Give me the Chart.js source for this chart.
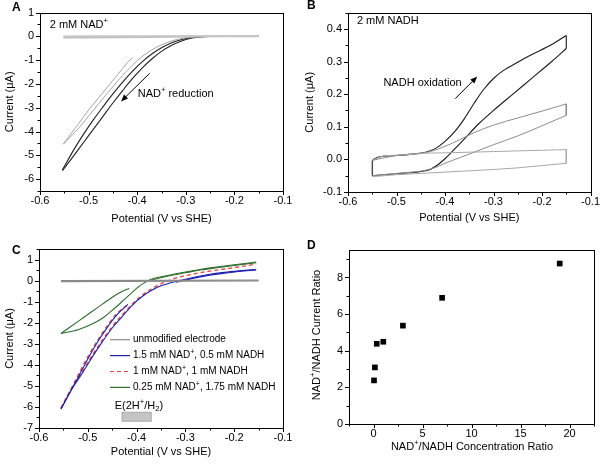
<!DOCTYPE html>
<html>
<head>
<meta charset="utf-8">
<script src="https://cdn.jsdelivr.net/npm/chart.js@4.4.1/dist/chart.umd.min.js"></script>
<style>
  body { margin: 0; background: #fff; }
  .panel { position: absolute; }
  canvas { display: block; }
</style>
</head>
<body>
<div class="panel" style="left:0;top:0"><canvas id="chartA" width="300" height="232"></canvas></div>
<div class="panel" style="left:300px;top:0"><canvas id="chartB" width="303" height="232"></canvas></div>
<div class="panel" style="left:0;top:232px"><canvas id="chartC" width="300" height="232"></canvas></div>
<div class="panel" style="left:300px;top:232px"><canvas id="chartD" width="303" height="232"></canvas></div>
<script>
var FONT = '"Liberation Sans", Arial, Helvetica, sans-serif';

// tick values
var xTicksCV = [-0.6, -0.5, -0.4, -0.3, -0.2, -0.1];
var yTicksA = [-6, -5, -4, -3, -2, -1, 0, 1];
var yTicksB = [-0.1, 0, 0.1, 0.2, 0.3, 0.4];
var yTicksC = [-7, -6, -5, -4, -3, -2, -1, 0, 1];
var xTicksD = [0, 5, 10, 15, 20];
var yTicksD = [0, 2, 4, 6, 8];

// A: 2 mM NAD+  [potential V, current uA]
var aBaseUp = [[-0.552, 0.0], [-0.4, 0.01], [-0.15, 0.02]];
var aBaseLow = [[-0.552, -0.06], [-0.45, -0.05], [-0.3, -0.02], [-0.15, 0.0]];
var aGray1 = [[-0.552, -4.53], [-0.52, -3.65], [-0.50, -3.1], [-0.48, -2.6], [-0.46, -2.1], [-0.44, -1.6], [-0.42, -1.1], [-0.41, -0.9]];
var aGray2 = [[-0.552, -4.53], [-0.52, -3.85], [-0.50, -3.35], [-0.48, -2.85], [-0.46, -2.35], [-0.44, -1.87], [-0.42, -1.42], [-0.40, -1.02],
  [-0.38, -0.7], [-0.36, -0.45], [-0.34, -0.27], [-0.32, -0.14], [-0.30, -0.06], [-0.28, -0.02], [-0.25, 0.0], [-0.20, 0.01], [-0.15, 0.02]];
var aBlack1 = [[-0.554, -5.62], [-0.53, -4.75], [-0.51, -4.1], [-0.49, -3.5], [-0.47, -2.95], [-0.45, -2.42], [-0.43, -1.92], [-0.41, -1.47],
  [-0.39, -1.07], [-0.37, -0.74], [-0.35, -0.48], [-0.33, -0.28], [-0.31, -0.14], [-0.29, -0.05], [-0.27, -0.01], [-0.22, 0.01], [-0.15, 0.02]];
var aBlack2 = [[-0.554, -5.65], [-0.53, -5.0], [-0.51, -4.45], [-0.49, -3.9], [-0.47, -3.35], [-0.45, -2.8], [-0.43, -2.28], [-0.41, -1.78],
  [-0.39, -1.33], [-0.37, -0.95], [-0.35, -0.63], [-0.33, -0.38], [-0.31, -0.2], [-0.29, -0.08], [-0.27, -0.02], [-0.22, 0.01], [-0.15, 0.02]];

// B: 2 mM NADH
var bBlackUp = [[-0.55, -0.003], [-0.54, 0.006], [-0.50, 0.012], [-0.46, 0.017], [-0.44, 0.022], [-0.42, 0.033], [-0.40, 0.055], [-0.38, 0.085],
  [-0.36, 0.125], [-0.34, 0.172], [-0.32, 0.215], [-0.30, 0.248], [-0.28, 0.272], [-0.25, 0.298], [-0.22, 0.322], [-0.18, 0.352], [-0.15, 0.38]];
var bBlackLow = [[-0.55, -0.05], [-0.50, -0.044], [-0.46, -0.039], [-0.44, -0.035], [-0.43, -0.03], [-0.42, -0.022], [-0.40, 0.002], [-0.38, 0.032],
  [-0.36, 0.063], [-0.33, 0.11], [-0.30, 0.15], [-0.26, 0.2], [-0.22, 0.25], [-0.18, 0.3], [-0.15, 0.34]];
var bGrayUp = [[-0.55, -0.003], [-0.50, 0.012], [-0.46, 0.018], [-0.43, 0.024], [-0.40, 0.04], [-0.37, 0.06], [-0.34, 0.082], [-0.30, 0.105],
  [-0.25, 0.127], [-0.20, 0.148], [-0.15, 0.17]];
var bGrayLow = [[-0.55, -0.05], [-0.50, -0.043], [-0.45, -0.036], [-0.42, -0.025], [-0.40, -0.012], [-0.37, 0.005], [-0.34, 0.022], [-0.30, 0.045],
  [-0.25, 0.072], [-0.20, 0.103], [-0.15, 0.135]];
var bBareUp = [[-0.55, -0.003], [-0.53, 0.009], [-0.50, 0.013], [-0.47, 0.015], [-0.44, 0.019], [-0.40, 0.02], [-0.35, 0.022], [-0.30, 0.024],
  [-0.25, 0.026], [-0.20, 0.028], [-0.15, 0.03]];
var bBareLow = [[-0.55, -0.053], [-0.50, -0.047], [-0.45, -0.043], [-0.40, -0.039], [-0.35, -0.035], [-0.30, -0.031], [-0.25, -0.026],
  [-0.20, -0.019], [-0.15, -0.012]];

// C: mixtures
var cGrayUp = [[-0.555, 0.0], [-0.15, 0.02]];
var cGrayLow = [[-0.555, -0.05], [-0.15, -0.01]];
var cBlueLeft = [[-0.555, -6.1], [-0.54, -5.45], [-0.52, -4.6], [-0.50, -3.72], [-0.48, -2.92], [-0.46, -2.22], [-0.44, -1.62], [-0.418, -1.13]];
var cBlueRight = [[-0.555, -6.1], [-0.53, -5.05], [-0.51, -4.35], [-0.49, -3.6], [-0.47, -2.9], [-0.45, -2.25], [-0.43, -1.72], [-0.41, -1.2],
  [-0.39, -0.78], [-0.37, -0.47], [-0.35, -0.25], [-0.33, -0.1], [-0.31, 0.01], [-0.28, 0.17], [-0.25, 0.3], [-0.22, 0.39], [-0.19, 0.46], [-0.155, 0.53]];
var cBlueRet = [[-0.32, -0.08], [-0.28, 0.13], [-0.25, 0.26], [-0.22, 0.35], [-0.19, 0.43], [-0.155, 0.5]];
var cRedLeft = [[-0.555, -6.05], [-0.54, -5.4], [-0.52, -4.5], [-0.50, -3.62], [-0.48, -2.84], [-0.46, -2.14], [-0.44, -1.56], [-0.415, -1.08]];
var cRedRight = [[-0.555, -6.05], [-0.53, -4.98], [-0.51, -4.28], [-0.49, -3.52], [-0.47, -2.82], [-0.45, -2.18], [-0.43, -1.64], [-0.41, -1.14],
  [-0.39, -0.72], [-0.37, -0.4], [-0.35, -0.15], [-0.33, 0.04], [-0.31, 0.18], [-0.28, 0.33], [-0.25, 0.45], [-0.22, 0.55], [-0.19, 0.65], [-0.155, 0.78]];
var cGreenLeft = [[-0.555, -2.51], [-0.534, -2.17], [-0.517, -1.89], [-0.5, -1.61], [-0.483, -1.33], [-0.466, -1.05], [-0.449, -0.78], [-0.432, -0.54], [-0.415, -0.37]];
var cGreenRight = [[-0.555, -2.51], [-0.52, -2.33], [-0.486, -2.0], [-0.468, -1.75], [-0.452, -1.45], [-0.438, -1.17], [-0.425, -0.89], [-0.41, -0.58],
  [-0.398, -0.33], [-0.385, -0.12], [-0.37, 0.06], [-0.35, 0.18], [-0.325, 0.3], [-0.30, 0.41], [-0.27, 0.53], [-0.236, 0.64], [-0.2, 0.75], [-0.155, 0.88]];
var cGreenRet = [[-0.37, 0.02], [-0.33, 0.24], [-0.30, 0.37], [-0.27, 0.5], [-0.236, 0.61], [-0.2, 0.72], [-0.155, 0.85]];
var cLegend = ['unmodified electrode', '1.5 mM NAD^{+}, 0.5 mM NADH', '1 mM NAD^{+}, 1 mM NADH', '0.25 mM NAD^{+}, 1.75 mM NADH'];

// D: ratio plot
var dConcRatio = [0.053, 0.143, 0.333, 1, 3, 7, 19];
var dCurrentRatio = [2.38, 3.09, 4.38, 4.49, 5.37, 6.89, 8.76];

var colGray = '#8a8a8a', colBlue = '#1f1fb0', colRed = '#e8413c', colGreen = '#2f6d2f';

function pts(arr) {
  return arr.map(function (p) { return { x: p[0], y: p[1] }; });
}

function curve(arr, color, width, dash) {
  return {
    data: pts(arr), showLine: true, borderColor: color, borderWidth: width || 1,
    borderDash: dash || [], pointRadius: 0, cubicInterpolationMode: 'monotone', fill: false
  };
}

// short straight piece joining two branch ends
function cap(a, b, color, width) {
  return { data: pts([a, b]), showLine: true, borderColor: color, borderWidth: width || 1, pointRadius: 0, tension: 0 };
}

function last(arr) { return arr[arr.length - 1]; }

function rich(ctx, str, x, y, size, align) {
  var parts = [];
  str.replace(/\^\{([^}]*)\}|_\{([^}]*)\}|([^\^_]+)/g, function (m, sup, sub, txt) {
    if (sup !== undefined) parts.push({ t: sup, s: size * 0.7, dy: -size * 0.38 });
    else if (sub !== undefined) parts.push({ t: sub, s: size * 0.7, dy: size * 0.3 });
    else parts.push({ t: txt, s: size, dy: 0 });
    return m;
  });
  var w = 0;
  parts.forEach(function (p) { ctx.font = p.s + 'px ' + FONT; p.w = ctx.measureText(p.t).width; w += p.w; });
  var cx = align === 'center' ? x - w / 2 : x;
  ctx.textBaseline = 'middle';
  ctx.textAlign = 'left';
  ctx.fillStyle = '#000';
  parts.forEach(function (p) {
    ctx.font = p.s + 'px ' + FONT;
    ctx.fillText(p.t, cx, y + p.dy);
    cx += p.w;
  });
}

function letter(ctx, t, x, y) {
  ctx.font = 'bold 12px ' + FONT;
  ctx.fillStyle = '#000';
  ctx.textAlign = 'left';
  ctx.textBaseline = 'middle';
  ctx.fillText(t, x, y);
}

function arrow(ctx, x1, y1, x2, y2) {
  var ang = Math.atan2(y2 - y1, x2 - x1);
  ctx.strokeStyle = '#000';
  ctx.fillStyle = '#000';
  ctx.lineWidth = 1;
  ctx.beginPath();
  ctx.moveTo(x1, y1);
  ctx.lineTo(x2 - 4 * Math.cos(ang), y2 - 4 * Math.sin(ang));
  ctx.stroke();
  ctx.beginPath();
  ctx.moveTo(x2, y2);
  ctx.lineTo(x2 - 7 * Math.cos(ang) + 2.8 * Math.sin(ang), y2 - 7 * Math.sin(ang) - 2.8 * Math.cos(ang));
  ctx.lineTo(x2 - 7 * Math.cos(ang) - 2.8 * Math.sin(ang), y2 - 7 * Math.sin(ang) + 2.8 * Math.cos(ang));
  ctx.closePath();
  ctx.fill();
}

// box around plot + outward major/minor ticks on left and bottom
var frame = {
  id: 'frame',
  afterDraw: function (chart) {
    var ctx = chart.ctx, a = chart.chartArea;
    ctx.save();
    ctx.strokeStyle = '#000';
    ctx.lineWidth = 1;
    ctx.strokeRect(Math.round(a.left) + 0.5, Math.round(a.top) + 0.5, Math.round(a.right - a.left), Math.round(a.bottom - a.top));
    ['x', 'y'].forEach(function (k) {
      var s = chart.scales[k];
      var vals = s.ticks.map(function (t) { return t.value; });
      var step = vals[1] - vals[0];
      var draw = function (v, len) {
        var p = Math.round(s.getPixelForValue(v)) + 0.5;
        ctx.beginPath();
        if (k === 'x') { ctx.moveTo(p, a.bottom); ctx.lineTo(p, a.bottom + len); }
        else { ctx.moveTo(a.left, p); ctx.lineTo(a.left - len, p); }
        ctx.stroke();
      };
      vals.forEach(function (v) { draw(v, 4); });
      for (var v = vals[0] - step / 2; v <= s.max + 1e-9; v += step) {
        if (v >= s.min - 1e-9) draw(v, 2.5);
      }
    });
    ctx.restore();
  }
};

function axis(o, dir) {
  return {
    type: 'linear', min: o.min, max: o.max,
    afterBuildTicks: function (s) { s.ticks = o.ticks.map(function (v) { return { value: v }; }); },
    afterFit: function (s) { if (dir === 'x') s.height = o.size; else s.width = o.size; },
    grid: { display: false, drawTicks: false },
    border: { display: false },
    ticks: { color: '#000', font: { family: FONT, size: 11 }, padding: dir === 'x' ? 3 : 6, maxRotation: 0, autoSkip: false, callback: o.fmt },
    title: o.title ? { display: true, text: o.title, color: '#000', font: { family: FONT, size: 11 }, padding: o.tpad } : { display: false }
  };
}

function makeChart(id, cfg) {
  return new Chart(document.getElementById(id), {
    type: 'scatter',
    data: { datasets: cfg.datasets },
    options: {
      responsive: false,
      animation: false,
      layout: { padding: cfg.pad },
      plugins: { legend: { display: false }, tooltip: { enabled: false } },
      scales: { x: axis(cfg.x, 'x'), y: axis(cfg.y, 'y') }
    },
    plugins: [frame, { id: 'notes', afterDraw: cfg.notes }]
  });
}

var fmt1 = function (v) { return v.toFixed(1); };
var fmt0 = function (v) { return String(v); };

// ---- A ----
makeChart('chartA', {
  pad: { left: 0, top: 11, right: 17, bottom: 0 },
  x: { min: -0.6, max: -0.1, ticks: xTicksCV, size: 41, fmt: fmt1, title: 'Potential (V vs SHE)', tpad: { top: 0, bottom: 6.4 } },
  y: { min: -6.5, max: 1, ticks: yTicksA, size: 40, fmt: fmt0, title: 'Current (\u03bcA)', tpad: { top: 3.4, bottom: 0 } },
  datasets: [
    curve(aBaseUp, '#c6c6c6', 2), curve(aBaseLow, '#bdbdbd', 1.5),
    curve(aGray1, '#a4a4a4', 1), curve(aGray2, '#a4a4a4', 1),
    curve(aBlack1, '#222', 1.1), curve(aBlack2, '#222', 1.1)
  ],
  notes: function (chart) {
    var ctx = chart.ctx, x = chart.scales.x, y = chart.scales.y;
    letter(ctx, 'A', 12, 8);
    rich(ctx, '2 mM NAD^{+}', x.getPixelForValue(-0.58), y.getPixelForValue(0.48), 11);
    rich(ctx, 'NAD^{+} reduction', x.getPixelForValue(-0.399), y.getPixelForValue(-2.44), 11);
    arrow(ctx, x.getPixelForValue(-0.3745), y.getPixelForValue(-1.556), x.getPixelForValue(-0.4333), y.getPixelForValue(-2.733));
  }
});

// ---- B ----
makeChart('chartB', {
  pad: { left: 0, top: 10, right: 10, bottom: 0 },
  x: { min: -0.6, max: -0.1, ticks: xTicksCV, size: 40, fmt: fmt1, title: 'Potential (V vs SHE)', tpad: { top: 0, bottom: 7.1 } },
  y: { min: -0.1, max: 0.45, ticks: yTicksB, size: 48, fmt: fmt1, title: 'Current (\u03bcA)', tpad: { top: 3.4, bottom: 0 } },
  datasets: [
    curve(bBareUp, '#a8a8a8', 1), curve(bBareLow, '#a8a8a8', 1), cap(last(bBareUp), last(bBareLow), '#a8a8a8', 1),
    curve(bGrayUp, '#8c8c8c', 1), curve(bGrayLow, '#8c8c8c', 1), cap(last(bGrayUp), last(bGrayLow), '#8c8c8c', 1),
    curve(bBlackUp, '#1a1a1a', 1.1), curve(bBlackLow, '#1a1a1a', 1.1),
    cap(last(bBlackUp), last(bBlackLow), '#1a1a1a', 1.1), cap(bBlackUp[0], bBlackLow[0], '#1a1a1a', 1.1)
  ],
  notes: function (chart) {
    var ctx = chart.ctx, x = chart.scales.x, y = chart.scales.y;
    letter(ctx, 'B', 7, 6);
    rich(ctx, '2 mM NADH', x.getPixelForValue(-0.5816), y.getPixelForValue(0.424), 11);
    rich(ctx, 'NADH oxidation', x.getPixelForValue(-0.527), y.getPixelForValue(0.233), 11);
    arrow(ctx, x.getPixelForValue(-0.379), y.getPixelForValue(0.186), x.getPixelForValue(-0.3335), y.getPixelForValue(0.254));
  }
});

// ---- C ----
var cStyles = [
  { color: colGray, dash: [] }, { color: colBlue, dash: [] }, { color: colRed, dash: [4, 3] }, { color: colGreen, dash: [] }
];
makeChart('chartC', {
  pad: { left: 0, top: 17, right: 17, bottom: 0 },
  x: { min: -0.6, max: -0.1, ticks: xTicksCV, size: 36, fmt: fmt1, title: 'Potential (V vs SHE)', tpad: { top: 0, bottom: 5.4 } },
  y: { min: -7, max: 1.5, ticks: yTicksC, size: 39, fmt: fmt0, title: 'Current (\u03bcA)', tpad: { top: 3.4, bottom: 0 } },
  datasets: [
    curve(cGrayUp, colGray, 1.2), curve(cGrayLow, colGray, 1.2),
    curve(cGreenLeft, colGreen, 1.1), curve(cGreenRight, colGreen, 1.1), curve(cGreenRet, colGreen, 1.1),
    curve(cBlueLeft, colBlue, 1.1), curve(cBlueRight, colBlue, 1.1), curve(cBlueRet, colBlue, 1.1),
    curve(cRedLeft, colRed, 1.3, [4, 3]), curve(cRedRight, colRed, 1.3, [4, 3])
  ],
  notes: function (chart) {
    var ctx = chart.ctx, x = chart.scales.x, y = chart.scales.y;
    letter(ctx, 'C', 12, 19);
    cLegend.forEach(function (t, i) {
      var ly = 107.7 + i * 15.9;
      ctx.save();
      ctx.strokeStyle = cStyles[i].color;
      ctx.lineWidth = 1.2;
      ctx.setLineDash(cStyles[i].dash);
      ctx.beginPath();
      ctx.moveTo(110, ly);
      ctx.lineTo(130, ly);
      ctx.stroke();
      ctx.restore();
      rich(ctx, t, 133, ly, 10);
    });
    var bx1 = x.getPixelForValue(-0.43), bx2 = x.getPixelForValue(-0.37);
    var by1 = y.getPixelForValue(-6.25), by2 = y.getPixelForValue(-6.68);
    ctx.fillStyle = '#c4c4c4';
    ctx.fillRect(bx1, by1, bx2 - bx1, by2 - by1);
    ctx.strokeStyle = '#a0a0a0';
    ctx.lineWidth = 0.8;
    ctx.strokeRect(bx1, by1, bx2 - bx1, by2 - by1);
    rich(ctx, 'E(2H^{+}/H_{2})', x.getPixelForValue(-0.445), y.getPixelForValue(-5.94), 11);
  }
});

// ---- D ----
makeChart('chartD', {
  pad: { left: 0, top: 18, right: 9, bottom: 0 },
  x: { min: -2.5, max: 22.5, ticks: xTicksD, size: 40, fmt: fmt0 },
  y: { min: 0, max: 9.5, ticks: yTicksD, size: 49, fmt: fmt0 },
  datasets: [{
    data: dConcRatio.map(function (c, i) { return { x: c, y: dCurrentRatio[i] }; }),
    pointStyle: 'rect', pointRadius: 4, pointBackgroundColor: '#000', pointBorderColor: '#000', pointBorderWidth: 0, showLine: false
  }],
  notes: function (chart) {
    var ctx = chart.ctx;
    letter(ctx, 'D', 7, 14);
    rich(ctx, 'NAD^{+}/NADH Concentration Ratio', 172, 215, 11, 'center');
    ctx.save();
    ctx.translate(16.7, 103);
    ctx.rotate(-Math.PI / 2);
    rich(ctx, 'NAD^{+}/NADH Current Ratio', 0, 0, 11, 'center');
    ctx.restore();
  }
});
</script>
</body>
</html>
